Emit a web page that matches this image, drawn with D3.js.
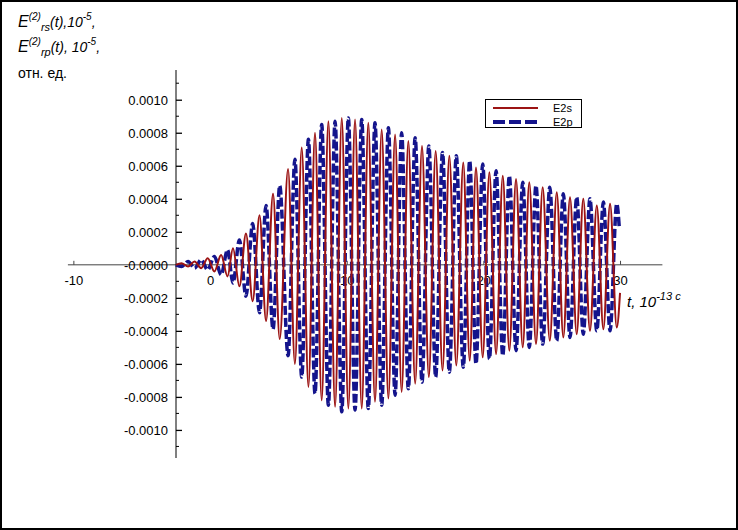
<!DOCTYPE html>
<html><head><meta charset="utf-8">
<script src="https://cdn.jsdelivr.net/npm/d3@7"></script>
<style>body{margin:0;background:#fff}svg{display:block;font-family:"Liberation Sans",Arial,sans-serif}</style>
</head><body>
<svg id="c" width="738" height="530"></svg>
<script>
// ---- data (extrema of the oscillations) ----
const e2sT = [-2.5,-2.09,-1.61,-1.13,-0.65,-0.17,0.32,0.81,1.28,1.68,2.15,2.63,3.12,3.62,4.1,4.61,5.1,5.71,6.21,6.71,7.2,7.68,8.17,8.66,9.15,9.64,10.12,10.61,11.1,11.58,12.07,12.56,13.05,13.54,14.02,14.51,15.01,15.51,16.01,16.51,17.01,17.51,18.02,18.53,19.0,19.46,19.95,20.44,20.93,21.42,21.9,22.39,22.88,23.36,23.85,24.34,24.86,25.37,25.85,26.34,26.83,27.31,27.8,28.3,28.78,29.27,29.76,30.0];
const e2sV = [0,0.00001,-0.00001,0.00002,-0.00002,0.00004,-0.00004,0.00006,-0.00007,0.0001,-0.00013,0.00019,-0.00022,0.0003,-0.00034,0.00043,-0.00045,0.00058,-0.0006,0.00071,-0.00074,0.0008,-0.00082,0.00087,-0.00086,0.00089,-0.00087,0.00088,-0.00087,0.00086,-0.00083,0.00082,-0.00081,0.00079,-0.00077,0.00075,-0.00072,0.00072,-0.00068,0.00069,-0.00064,0.00066,-0.00061,0.00062,-0.00058,0.00059,-0.00056,0.00056,-0.00054,0.00054,-0.00052,0.00052,-0.0005,0.0005,-0.00048,0.00047,-0.00046,0.00044,-0.00044,0.00041,-0.00042,0.0004,-0.0004,0.00036,-0.00039,0.00037,-0.00038,-0.00017];
const e2pT = [-2.5,-2.09,-1.61,-1.13,-0.65,-0.17,0.32,0.81,1.28,1.68,2.15,2.63,3.12,3.62,4.1,4.61,5.1,5.71,6.21,6.71,7.2,7.68,8.17,8.66,9.15,9.64,10.12,10.61,11.1,11.58,12.07,12.56,13.05,13.54,14.02,14.51,15.01,15.51,16.01,16.51,17.01,17.51,18.02,18.53,19.0,19.46,19.95,20.44,20.93,21.42,21.9,22.39,22.88,23.36,23.85,24.34,24.86,25.37,25.85,26.34,26.83,27.31,27.8,28.3,28.78,29.27,29.76,29.95];
const e2pV = [0,-0.00001,0.00002,-0.00002,0.00003,-0.00003,0.00005,-0.00006,0.00009,-0.00011,0.00015,-0.00019,0.00025,-0.00029,0.00036,-0.00039,0.00048,-0.00055,0.00064,-0.00068,0.00076,-0.00078,0.00085,-0.00085,0.00087,-0.00089,0.00089,-0.00088,0.00088,-0.00087,0.00086,-0.00085,0.00083,-0.00079,0.0008,-0.00075,0.00077,-0.00071,0.00072,-0.00068,0.00068,-0.00065,0.00066,-0.00062,0.00063,-0.0006,0.00061,-0.00057,0.00057,-0.00055,0.00054,-0.00052,0.0005,-0.0005,0.00048,-0.00048,0.00047,-0.00046,0.00043,-0.00044,0.00041,-0.00042,0.0004,-0.0004,0.00038,-0.0004,0.00037,0.00022];
const xTicks = [-10, 0, 10, 20, 30];
const yTicks = [-0.0010,-0.0008,-0.0006,-0.0004,-0.0002,0,0.0002,0.0004,0.0006,0.0008,0.0010];
const seriesNames = ["E2s", "E2p"];
const seriesColors = ["#9c1414", "#14148c"];

const svg = d3.select("#c");
svg.append("rect").attr("x",1).attr("y",1).attr("width",736).attr("height",528)
  .attr("fill","#fff").attr("stroke","#000").attr("stroke-width",2);

const x = d3.scaleLinear().domain([-10.4, 33.1]).range([67.9, 662.4]);
const y = d3.scaleLinear().domain([-0.00117, 0.00118]).range([458, 70]);
const y0 = y(0), x0 = x(-2.49);

// x axis
svg.append("line").attr("x1",x.range()[0]).attr("x2",x.range()[1]).attr("y1",y0).attr("y2",y0)
  .attr("stroke","#444").attr("stroke-width",1);
const xa = svg.append("g").attr("transform",`translate(0,${y0})`)
  .call(d3.axisBottom(x).tickValues(xTicks).tickSize(-4).tickPadding(0).tickFormat(d => String(d)));
xa.select(".domain").remove();
xa.selectAll(".tick line").attr("stroke","#444");
xa.selectAll(".tick text").attr("font-size",13).attr("font-family","Liberation Sans, Arial")
  .attr("y",20).attr("dy",0).attr("fill","#000");

// y axis
const ya = svg.append("g").attr("transform",`translate(${x0},0)`)
  .call(d3.axisLeft(y).tickValues(yTicks).tickSize(-6).tickPadding(0)
    .tickFormat(d => d === 0 ? "-0.0000" : d.toFixed(4)));
ya.select(".domain").remove();
svg.append("line").attr("x1",x0).attr("x2",x0).attr("y1",70).attr("y2",458).attr("stroke","#000");
ya.selectAll(".tick line").attr("stroke","#000").attr("stroke-width",1.3);
ya.selectAll(".tick text").attr("font-size",13).attr("font-family","Liberation Sans, Arial")
  .attr("x",-8).attr("dy","0.38em").attr("fill","#000");
// minor y ticks
const minor = d3.range(-11, 12).map(i => i * 0.0001).filter(v => Math.abs(Math.round(v*10000)) % 2 === 1);
svg.append("g").selectAll("line").data(minor).join("line")
  .attr("x1",x0).attr("x2",x0+3).attr("y1",d=>y(d)).attr("y2",d=>y(d)).attr("stroke","#000");

// series
const line = d3.line().x(d => x(d[0])).y(d => y(d[1])).curve(d3.curveMonotoneX);
const e2p = e2pT.map((t,i) => [t, e2pV[i]]);
const e2s = e2sT.map((t,i) => [t, e2sV[i]]);
svg.append("path").datum(e2p).attr("d",line).attr("fill","none")
  .attr("stroke",seriesColors[1]).attr("stroke-width",3.5).attr("stroke-dasharray","9,3");
svg.append("path").datum(e2s).attr("d",line).attr("fill","none")
  .attr("stroke",seriesColors[0]).attr("stroke-width",2);

// legend
const lg = svg.append("g");
lg.append("rect").attr("x",485.5).attr("y",99.5).attr("width",96).attr("height",28)
  .attr("fill","#fff").attr("stroke","#000");
lg.append("line").attr("x1",493).attr("x2",538).attr("y1",108).attr("y2",108)
  .attr("stroke",seriesColors[0]).attr("stroke-width",2);
lg.append("line").attr("x1",493).attr("x2",538).attr("y1",122).attr("y2",122)
  .attr("stroke",seriesColors[1]).attr("stroke-width",4).attr("stroke-dasharray","12,4");
lg.selectAll("text.l").data(seriesNames).join("text").attr("class","l")
  .attr("x",553).attr("y",(d,i)=>108+i*14).attr("dy","0.35em").attr("font-size",11).text(d=>d);

// axis titles
function title(yb, parts) {
  const t = svg.append("text").attr("x",18).attr("y",yb).attr("font-style","italic").attr("font-size",15);
  parts.forEach(p => t.append("tspan").attr("font-size",p[1]).attr("dy",p[2]).text(p[0]));
}
title(27, [["E",16,0],["(2)",10,-7],["rs",11,11],["(t),10",14,-4],["-5",10,-7],[",",14,7]]);
title(52, [["E",16,0],["(2)",10,-7],["rp",11,11],["(t), 10",14,-4],["-5",10,-7],[",",14,7]]);
svg.append("text").attr("x",18).attr("y",78).attr("font-size",14).text("отн. ед.");
const xt = svg.append("text").attr("x",627).attr("y",307).attr("font-style","italic").attr("font-size",15);
xt.append("tspan").text("t, 10");
xt.append("tspan").attr("font-size",11).attr("dy",-7).text("-13 c");
</script>
</body></html>
